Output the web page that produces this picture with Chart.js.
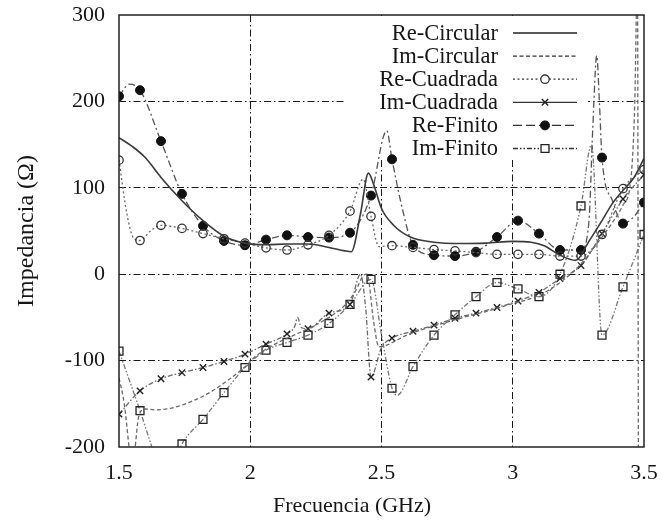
<!DOCTYPE html>
<html>
<head>
<meta charset="utf-8">
<script src="https://cdn.jsdelivr.net/npm/chart.js@4.4.0/dist/chart.umd.min.js"></script>
<style>
html,body{margin:0;padding:0;background:#fff;}
#wrap{width:670px;height:523px;position:relative;}
</style>
</head>
<body>
<div id="wrap"><canvas id="c" width="670" height="523"></canvas></div>
<script>
// ---------- data ----------
const seriesLabels = ['Re-Circular', 'Im-Circular', 'Re-Cuadrada', 'Im-Cuadrada', 'Re-Finito', 'Im-Finito'];
const xTickLabels = ['1.5', '2', '2.5', '3', '3.5'];
const yTickLabels = ['-200', '-100', '0', '100', '200', '300'];
const xTitle = 'Frecuencia (GHz)';
const yTitle = 'Impedancia (\u03A9)';

const reCircularX = [1.50, 1.55, 1.60, 1.66, 1.74, 1.82, 1.90, 1.98, 2.06, 2.14, 2.22, 2.30, 2.36, 2.385, 2.42, 2.45, 2.47, 2.50, 2.545, 2.61, 2.70, 2.80, 2.90, 3.00, 3.07, 3.12, 3.18, 3.24, 3.29, 3.34, 3.38, 3.42, 3.46, 3.50];
const reCircularY = [158, 148, 135, 112, 85, 62, 44, 36, 34, 35, 35, 31, 27, 26, 70, 117, 104, 76, 57, 43, 37, 35.5, 36, 38, 37, 33, 22, 16, 38, 62, 82, 97, 111, 134];

const imCircularX = [1.50, 1.52, 1.54, 1.55, 1.56, 1.575, 1.60, 1.64, 1.70, 1.77, 1.84, 1.90, 1.98, 2.02, 2.10, 2.20, 2.30, 2.36, 2.40, 2.43, 2.445, 2.47, 2.49, 2.52, 2.60, 2.70, 2.80, 2.90, 3.00, 3.08, 3.14, 3.20, 3.26, 3.32, 3.38, 3.42, 3.45, 3.465, 3.475, 3.48, 3.49, 3.50];
const imCircularY = [-120, -150, -205, -230, -205, -165, -156, -157, -155, -148, -138, -126, -107, -95, -80, -66, -50, -36, -20, -2, 0, -55, -84, -82, -70, -60, -51, -43, -34, -27, -18, -5, 12, 35, 60, 80, 110, 200, 350, -350, -260, -230];

const reCuadradaX = [1.50, 1.53, 1.555, 1.58, 1.62, 1.66, 1.74, 1.82, 1.90, 1.98, 2.06, 2.14, 2.22, 2.30, 2.38, 2.43, 2.46, 2.49, 2.54, 2.62, 2.70, 2.78, 2.86, 2.94, 3.02, 3.10, 3.18, 3.26, 3.34, 3.42, 3.50];
const reCuadradaY = [132, 70, 42, 39, 50, 56.6, 53, 47, 41, 36, 30.5, 28, 34, 45, 73, 110, 67, 32, 33, 31, 28.5, 27, 25, 23, 23, 23, 21, 21, 46, 99, 121];

const imCuadradaX = [1.50, 1.58, 1.66, 1.74, 1.82, 1.90, 1.98, 2.06, 2.14, 2.17, 2.18, 2.195, 2.22, 2.30, 2.38, 2.42, 2.44, 2.46, 2.50, 2.54, 2.62, 2.70, 2.78, 2.86, 2.94, 3.02, 3.10, 3.18, 3.26, 3.34, 3.42, 3.50];
const imCuadradaY = [-162, -135, -121, -114, -108, -101, -92.5, -81, -69, -60, -50, -62, -63, -45, -35, 0, -40, -119, -85, -74, -66, -59, -51, -45, -38.5, -31, -21, -5, 10, 47, 87, 115];

const reFinitoX = [1.50, 1.54, 1.58, 1.66, 1.74, 1.82, 1.90, 1.98, 2.06, 2.14, 2.22, 2.30, 2.38, 2.46, 2.52, 2.54, 2.58, 2.62, 2.70, 2.78, 2.86, 2.94, 3.02, 3.10, 3.18, 3.26, 3.29, 3.305, 3.32, 3.33, 3.34, 3.38, 3.42, 3.46, 3.50];
const reFinitoY = [206, 220, 213, 154, 93, 56, 38.5, 33.5, 40, 45, 43, 42.4, 48, 91, 166, 133, 75, 34, 22, 21, 26, 43, 62, 47, 28, 28, 60, 170, 253, 200, 135, 85, 58.6, 66, 83];

const imFinitoX = [1.50, 1.58, 1.62, 1.66, 1.70, 1.74, 1.82, 1.90, 1.98, 2.06, 2.14, 2.22, 2.30, 2.38, 2.46, 2.50, 2.54, 2.56, 2.62, 2.70, 2.78, 2.86, 2.94, 3.02, 3.10, 3.18, 3.26, 3.30, 3.34, 3.42, 3.50];
const imFinitoY = [-89, -158, -195, -230, -225, -196.5, -168, -137, -108, -88, -79, -70.5, -57, -35, -6, -70, -132, -140, -107, -70.5, -47, -26, -9.6, -17, -26, 0, 79, 150, -70.5, -14.6, 46];

// ---------- helpers ----------
const pairs = (xs, ys) => xs.map((x, i) => ({x: x, y: ys[i]}));
const onMarkerGrid = v => { const k = (v - 1.5) / 0.08; return Math.abs(k - Math.round(k)) < 1e-6; };
const markerRadius = r => ctx => (ctx.raw && onMarkerGrid(ctx.raw.x)) ? r : 0;

const SERIF = "'Liberation Serif', 'Times New Roman', serif";
const TXT = '#161616';

function lineSet(label, xs, ys, o) {
  return Object.assign({
    label: label,
    data: pairs(xs, ys),
    fill: false,
    cubicInterpolationMode: 'monotone',
    pointHoverRadius: 0,
    pointHitRadius: 0
  }, o);
}

const datasets = [
  lineSet(seriesLabels[0], reCircularX, reCircularY, {
    borderColor: '#3a3a3a', borderWidth: 1.6, borderDash: [], pointRadius: 0, pointStyle: false
  }),
  lineSet(seriesLabels[1], imCircularX, imCircularY, {
    borderColor: '#6a6a6a', borderWidth: 1.3, borderDash: [4, 2.5], pointRadius: 0, pointStyle: false
  }),
  lineSet(seriesLabels[2], reCuadradaX, reCuadradaY, {
    borderColor: '#6a6a6a', borderWidth: 1.3, borderDash: [2, 2.5],
    pointStyle: 'circle', pointRadius: markerRadius(4.2),
    pointBackgroundColor: 'rgba(255,255,255,0)', pointBorderColor: '#333', pointBorderWidth: 1.3
  }),
  lineSet(seriesLabels[3], imCuadradaX, imCuadradaY, {
    borderColor: '#6a6a6a', borderWidth: 1.3, borderDash: [5, 2, 1.5, 2],
    pointStyle: 'crossRot', pointRadius: markerRadius(4.5),
    pointBackgroundColor: '#222', pointBorderColor: '#222', pointBorderWidth: 1.4
  }),
  lineSet(seriesLabels[4], reFinitoX, reFinitoY, {
    borderColor: '#555', borderWidth: 1.3, borderDash: [7, 3, 2, 3],
    pointStyle: 'circle', pointRadius: markerRadius(4.5),
    pointBackgroundColor: '#111', pointBorderColor: '#111', pointBorderWidth: 1
  }),
  lineSet(seriesLabels[5], imFinitoX, imFinitoY, {
    borderColor: '#777', borderWidth: 1.3, borderDash: [5, 2, 1.5, 2, 1.5, 2],
    pointStyle: 'rect', pointRadius: markerRadius(5.6),
    pointBackgroundColor: 'rgba(255,255,255,0)', pointBorderColor: '#222', pointBorderWidth: 1.3
  })
];

// legend sample styles (as drawn in the key)
const legendDash = [[], [4, 2.5], [2, 2.5], [], [9, 4], [5, 2, 1.5, 2, 1.5, 2]];

const keyPlugin = {
  id: 'keyAndFrame',
  beforeDatasetsDraw(chart) {
    const ctx = chart.ctx;
    ctx.save();
    ctx.fillStyle = '#fff';
    ctx.fillRect(345, chart.chartArea.top + 1, 243, 142);
    ctx.restore();
  },
  afterDatasetsDraw(chart) {
    const ctx = chart.ctx;
    const a = chart.chartArea;
    // frame
    ctx.save();
    ctx.strokeStyle = '#222';
    ctx.lineWidth = 1.5;
    ctx.setLineDash([]);
    ctx.strokeRect(a.left, a.top, a.right - a.left, a.bottom - a.top);
    ctx.restore();
    // key
    const textRight = 498, x1 = 513, x2 = 577, y0 = 33, dy = 23.1;
    ctx.save();
    ctx.font = '22.5px ' + SERIF;
    ctx.textAlign = 'right';
    ctx.textBaseline = 'middle';
    chart.data.datasets.forEach((ds, i) => {
      const y = y0 + i * dy;
      ctx.fillStyle = TXT;
      ctx.fillText(ds.label, textRight, y + 1);
      ctx.strokeStyle = i === 0 ? '#222' : '#333';
      ctx.lineWidth = 1.3;
      ctx.setLineDash(legendDash[i]);
      ctx.beginPath();
      ctx.moveTo(x1, y);
      ctx.lineTo(x2, y);
      ctx.stroke();
      ctx.setLineDash([]);
      if (ds.pointStyle) {
        const r = typeof ds.pointRadius === 'function' ? ds.pointRadius({raw: {x: 1.5}}) : ds.pointRadius;
        ctx.fillStyle = ds.pointBackgroundColor === 'rgba(255,255,255,0)' ? '#fff' : ds.pointBackgroundColor;
        ctx.strokeStyle = ds.pointBorderColor;
        ctx.lineWidth = ds.pointBorderWidth;
        Chart.helpers.drawPoint(ctx, {pointStyle: ds.pointStyle, rotation: 0, radius: r, borderWidth: ds.pointBorderWidth}, (x1 + x2) / 2, y);
      }
    });
    ctx.restore();
  },
  afterDraw(chart) {
    // x-axis title (placed as in the reference, slightly left of the plot centre)
    const ctx = chart.ctx;
    ctx.save();
    ctx.font = '22px ' + SERIF;
    ctx.fillStyle = TXT;
    ctx.textAlign = 'center';
    ctx.textBaseline = 'middle';
    ctx.fillText(xTitle, 352, 506);
    ctx.restore();
  }
};

const edgeAware = (minV, maxV) => c => {
  const v = c.tick ? c.tick.value : null;
  return (v === null || Math.abs(v - minV) < 1e-9 || Math.abs(v - maxV) < 1e-9) ? 'rgba(0,0,0,0)' : '#1a1a1a';
};

new Chart(document.getElementById('c'), {
  type: 'line',
  data: { datasets: datasets },
  options: {
    responsive: false,
    animation: false,
    devicePixelRatio: 1,
    events: [],
    layout: { padding: { top: 15, right: 26, left: 0, bottom: 0 } },
    plugins: { legend: { display: false }, tooltip: { enabled: false } },
    scales: {
      x: {
        type: 'linear', min: 1.5, max: 3.5,
        afterFit: s => { s.height = 76; s.paddingLeft = 0; s.paddingRight = 0; },
        afterBuildTicks: s => { s.ticks = xTickLabels.map(t => ({value: parseFloat(t)})); },
        ticks: {
          callback: v => xTickLabels.find(t => Math.abs(parseFloat(t) - v) < 1e-9) || '',
          font: { family: SERIF, size: 22 }, color: TXT, padding: 13, maxRotation: 0, autoSkip: false
        },
        grid: { color: edgeAware(1.5, 3.5), lineWidth: 1, drawTicks: false },
        border: { display: false, dash: [7, 3, 1.5, 3] },
        title: { display: false }
      },
      y: {
        type: 'linear', min: -200, max: 300,
        afterFit: s => { s.width = 119; s.paddingTop = 0; s.paddingBottom = 0; },
        afterBuildTicks: s => { s.ticks = yTickLabels.map(t => ({value: parseFloat(t)})); },
        ticks: {
          callback: v => yTickLabels.find(t => Math.abs(parseFloat(t) - v) < 1e-9) || '',
          font: { family: SERIF, size: 22 }, color: TXT, padding: 14, autoSkip: false
        },
        grid: { color: edgeAware(-200, 300), lineWidth: 1, drawTicks: false },
        border: { display: false, dash: [7, 3, 1.5, 3] },
        title: { display: true, text: yTitle, font: { family: SERIF, size: 24 }, color: TXT, padding: { top: 12, bottom: 0 } }
      }
    }
  },
  plugins: [keyPlugin]
});
</script>
</body>
</html>
